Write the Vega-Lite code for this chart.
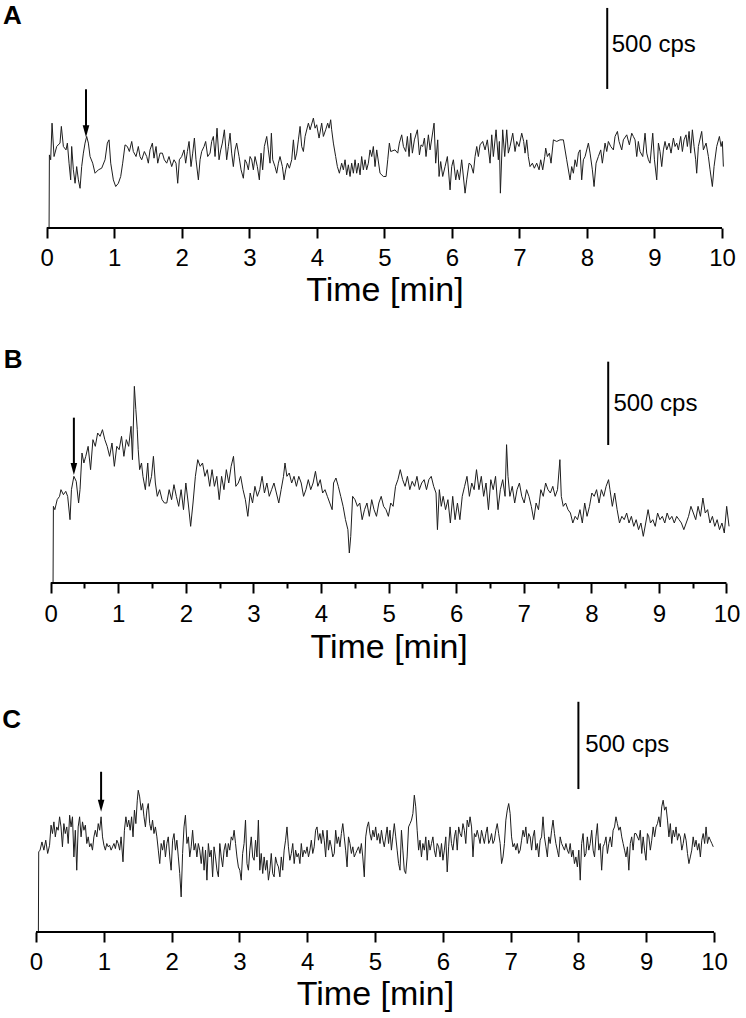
{
  "$schema": "https://vega.github.io/schema/vega-lite/v6.json",
  "padding": 0,
  "config": {"view": {"stroke": null}, "font": "Liberation Sans"},
  "bounds": "flush",
  "spacing": 120,
  "datasets": {
    "A": [
      {"t":0.035,"cps":0},{"t":0.04,"cps":451},{"t":0.059,"cps":421},{"t":0.079,"cps":647},{"t":0.109,"cps":441},{"t":0.148,"cps":503},{"t":0.197,"cps":524},{"t":0.217,"cps":627},{"t":0.247,"cps":503},{"t":0.286,"cps":482},{"t":0.306,"cps":524},{"t":0.331,"cps":400},{"t":0.355,"cps":297},{"t":0.370,"cps":503},{"t":0.395,"cps":359},{"t":0.420,"cps":276},{"t":0.444,"cps":379},{"t":0.469,"cps":297},{"t":0.494,"cps":245},{"t":0.518,"cps":379},{"t":0.543,"cps":462},{"t":0.568,"cps":524},{"t":0.592,"cps":565},{"t":0.617,"cps":524},{"t":0.642,"cps":441},{"t":0.681,"cps":400},{"t":0.716,"cps":338},{"t":0.765,"cps":359},{"t":0.814,"cps":369},{"t":0.864,"cps":421},{"t":0.898,"cps":524},{"t":0.923,"cps":544},{"t":0.948,"cps":400},{"t":0.987,"cps":297},{"t":1.022,"cps":256},{"t":1.061,"cps":276},{"t":1.096,"cps":318},{"t":1.125,"cps":400},{"t":1.160,"cps":513},{"t":1.194,"cps":503},{"t":1.224,"cps":472},{"t":1.259,"cps":534},{"t":1.283,"cps":472},{"t":1.323,"cps":441},{"t":1.357,"cps":503},{"t":1.382,"cps":441},{"t":1.407,"cps":421},{"t":1.446,"cps":472},{"t":1.481,"cps":441},{"t":1.505,"cps":400},{"t":1.530,"cps":482},{"t":1.565,"cps":524},{"t":1.589,"cps":431},{"t":1.619,"cps":503},{"t":1.644,"cps":400},{"t":1.678,"cps":462},{"t":1.713,"cps":462},{"t":1.742,"cps":421},{"t":1.777,"cps":400},{"t":1.811,"cps":441},{"t":1.851,"cps":379},{"t":1.885,"cps":421},{"t":1.915,"cps":400},{"t":1.940,"cps":276},{"t":1.964,"cps":421},{"t":1.999,"cps":441},{"t":2.034,"cps":482},{"t":2.058,"cps":400},{"t":2.083,"cps":472},{"t":2.108,"cps":534},{"t":2.137,"cps":379},{"t":2.162,"cps":462},{"t":2.187,"cps":555},{"t":2.211,"cps":421},{"t":2.246,"cps":297},{"t":2.271,"cps":421},{"t":2.295,"cps":472},{"t":2.330,"cps":503},{"t":2.354,"cps":534},{"t":2.384,"cps":441},{"t":2.419,"cps":462},{"t":2.443,"cps":534},{"t":2.468,"cps":565},{"t":2.493,"cps":441},{"t":2.522,"cps":616},{"t":2.552,"cps":421},{"t":2.577,"cps":482},{"t":2.601,"cps":524},{"t":2.631,"cps":606},{"t":2.665,"cps":421},{"t":2.690,"cps":503},{"t":2.715,"cps":585},{"t":2.739,"cps":462},{"t":2.764,"cps":379},{"t":2.789,"cps":482},{"t":2.813,"cps":524},{"t":2.848,"cps":441},{"t":2.878,"cps":359},{"t":2.912,"cps":307},{"t":2.937,"cps":421},{"t":2.962,"cps":400},{"t":2.986,"cps":359},{"t":3.011,"cps":441},{"t":3.036,"cps":421},{"t":3.060,"cps":359},{"t":3.085,"cps":441},{"t":3.119,"cps":379},{"t":3.149,"cps":297},{"t":3.174,"cps":462},{"t":3.198,"cps":359},{"t":3.223,"cps":503},{"t":3.258,"cps":565},{"t":3.282,"cps":482},{"t":3.307,"cps":400},{"t":3.327,"cps":585},{"t":3.347,"cps":421},{"t":3.381,"cps":379},{"t":3.406,"cps":338},{"t":3.431,"cps":400},{"t":3.455,"cps":441},{"t":3.490,"cps":379},{"t":3.515,"cps":297},{"t":3.539,"cps":359},{"t":3.564,"cps":400},{"t":3.594,"cps":369},{"t":3.628,"cps":421},{"t":3.653,"cps":544},{"t":3.678,"cps":421},{"t":3.702,"cps":462},{"t":3.727,"cps":544},{"t":3.752,"cps":627},{"t":3.776,"cps":503},{"t":3.801,"cps":472},{"t":3.826,"cps":565},{"t":3.875,"cps":647},{"t":3.900,"cps":606},{"t":3.949,"cps":678},{"t":3.974,"cps":616},{"t":3.998,"cps":637},{"t":4.033,"cps":555},{"t":4.072,"cps":647},{"t":4.097,"cps":565},{"t":4.131,"cps":606},{"t":4.161,"cps":647},{"t":4.181,"cps":616},{"t":4.205,"cps":668},{"t":4.220,"cps":606},{"t":4.245,"cps":524},{"t":4.279,"cps":441},{"t":4.304,"cps":379},{"t":4.334,"cps":338},{"t":4.368,"cps":400},{"t":4.393,"cps":359},{"t":4.418,"cps":421},{"t":4.442,"cps":328},{"t":4.467,"cps":390},{"t":4.492,"cps":318},{"t":4.516,"cps":400},{"t":4.541,"cps":338},{"t":4.566,"cps":421},{"t":4.590,"cps":338},{"t":4.615,"cps":400},{"t":4.640,"cps":328},{"t":4.664,"cps":441},{"t":4.689,"cps":359},{"t":4.714,"cps":421},{"t":4.738,"cps":359},{"t":4.763,"cps":400},
      {"t":4.788,"cps":482},{"t":4.813,"cps":441},{"t":4.837,"cps":503},{"t":4.862,"cps":379},{"t":4.887,"cps":482},{"t":4.936,"cps":338},{"t":4.985,"cps":318},{"t":5.025,"cps":318},{"t":5.050,"cps":421},{"t":5.074,"cps":524},{"t":5.094,"cps":472},{"t":5.158,"cps":482},{"t":5.198,"cps":462},{"t":5.222,"cps":524},{"t":5.257,"cps":575},{"t":5.282,"cps":503},{"t":5.316,"cps":472},{"t":5.341,"cps":565},{"t":5.366,"cps":441},{"t":5.390,"cps":585},{"t":5.415,"cps":462},{"t":5.445,"cps":544},{"t":5.489,"cps":606},{"t":5.519,"cps":451},{"t":5.543,"cps":513},{"t":5.568,"cps":503},{"t":5.593,"cps":555},{"t":5.617,"cps":441},{"t":5.652,"cps":575},{"t":5.677,"cps":482},{"t":5.736,"cps":647},{"t":5.760,"cps":400},{"t":5.790,"cps":544},{"t":5.810,"cps":318},{"t":5.834,"cps":410},{"t":5.864,"cps":318},{"t":5.899,"cps":379},{"t":5.933,"cps":441},{"t":5.973,"cps":235},{"t":5.997,"cps":379},{"t":6.022,"cps":421},{"t":6.057,"cps":297},{"t":6.081,"cps":359},{"t":6.111,"cps":297},{"t":6.145,"cps":421},{"t":6.195,"cps":215},{"t":6.219,"cps":297},{"t":6.254,"cps":400},{"t":6.284,"cps":390},{"t":6.318,"cps":338},{"t":6.343,"cps":441},{"t":6.368,"cps":503},{"t":6.392,"cps":441},{"t":6.417,"cps":513},{"t":6.456,"cps":534},{"t":6.491,"cps":482},{"t":6.525,"cps":544},{"t":6.565,"cps":400},{"t":6.590,"cps":575},{"t":6.614,"cps":441},{"t":6.654,"cps":606},{"t":6.688,"cps":421},{"t":6.703,"cps":534},{"t":6.718,"cps":215},{"t":6.752,"cps":606},{"t":6.782,"cps":441},{"t":6.812,"cps":606},{"t":6.836,"cps":462},{"t":6.861,"cps":503},{"t":6.901,"cps":585},{"t":6.935,"cps":472},{"t":6.960,"cps":534},{"t":6.994,"cps":503},{"t":7.034,"cps":585},{"t":7.063,"cps":534},{"t":7.083,"cps":462},{"t":7.108,"cps":544},{"t":7.132,"cps":441},{"t":7.157,"cps":379},{"t":7.192,"cps":400},{"t":7.221,"cps":369},{"t":7.256,"cps":400},{"t":7.291,"cps":359},{"t":7.315,"cps":421},{"t":7.345,"cps":359},{"t":7.375,"cps":441},{"t":7.389,"cps":493},{"t":7.414,"cps":441},{"t":7.444,"cps":462},{"t":7.468,"cps":400},{"t":7.503,"cps":544},{"t":7.552,"cps":534},{"t":7.601,"cps":544},{"t":7.651,"cps":544},{"t":7.700,"cps":421},{"t":7.750,"cps":297},{"t":7.774,"cps":379},{"t":7.799,"cps":338},{"t":7.824,"cps":421},{"t":7.848,"cps":379},{"t":7.873,"cps":462},{"t":7.898,"cps":482},{"t":7.922,"cps":297},{"t":7.947,"cps":421},{"t":7.972,"cps":441},{"t":8.021,"cps":524},{"t":8.046,"cps":462},{"t":8.080,"cps":359},{"t":8.105,"cps":256},{"t":8.135,"cps":400},{"t":8.169,"cps":441},{"t":8.204,"cps":482},{"t":8.228,"cps":400},{"t":8.268,"cps":524},{"t":8.293,"cps":472},{"t":8.317,"cps":534},{"t":8.352,"cps":503},{"t":8.391,"cps":482},{"t":8.416,"cps":565},{"t":8.451,"cps":596},{"t":8.475,"cps":534},{"t":8.515,"cps":482},{"t":8.539,"cps":544},{"t":8.589,"cps":575},{"t":8.628,"cps":513},{"t":8.663,"cps":585},{"t":8.687,"cps":565},{"t":8.712,"cps":544},{"t":8.737,"cps":441},{"t":8.761,"cps":534},{"t":8.786,"cps":472},{"t":8.826,"cps":441},{"t":8.860,"cps":585},{"t":8.885,"cps":462},{"t":8.910,"cps":421},{"t":8.934,"cps":400},{"t":8.974,"cps":585},{"t":8.999,"cps":421},{"t":9.033,"cps":297},{"t":9.058,"cps":524},{"t":9.082,"cps":472},{"t":9.107,"cps":379},{"t":9.132,"cps":482},{"t":9.156,"cps":534},{"t":9.181,"cps":482},{"t":9.216,"cps":524},{"t":9.245,"cps":462},{"t":9.280,"cps":555},{"t":9.304,"cps":503},{"t":9.329,"cps":524},{"t":9.354,"cps":482},{"t":9.388,"cps":565},{"t":9.413,"cps":472},{"t":9.438,"cps":544},{"t":9.467,"cps":575},{"t":9.487,"cps":503},{"t":9.512,"cps":596},{"t":9.536,"cps":462},{"t":9.561,"cps":606},{"t":9.586,"cps":503},{"t":9.610,"cps":421},{"t":9.625,"cps":338},{"t":9.650,"cps":503},{"t":9.699,"cps":596},{"t":9.724,"cps":482},{"t":9.764,"cps":524},{"t":9.798,"cps":441},{"t":9.823,"cps":359},{"t":9.857,"cps":256},{"t":9.882,"cps":379},{"t":9.921,"cps":503},{"t":9.961,"cps":565},{"t":9.986,"cps":503},{"t":10.005,"cps":534},{"t":10.020,"cps":379}
    ],
    "B": [
      {"t":0.035,"cps":0},{"t":0.04,"cps":460},{"t":0.061,"cps":440},{"t":0.096,"cps":500},{"t":0.131,"cps":520},{"t":0.152,"cps":560},{"t":0.188,"cps":530},{"t":0.223,"cps":550},{"t":0.251,"cps":520},{"t":0.286,"cps":380},{"t":0.307,"cps":560},{"t":0.343,"cps":640},{"t":0.378,"cps":610},{"t":0.413,"cps":480},{"t":0.434,"cps":560},{"t":0.463,"cps":780},{"t":0.491,"cps":720},{"t":0.519,"cps":760},{"t":0.554,"cps":820},{"t":0.590,"cps":680},{"t":0.625,"cps":860},{"t":0.660,"cps":820},{"t":0.695,"cps":900},{"t":0.731,"cps":880},{"t":0.766,"cps":920},{"t":0.801,"cps":860},{"t":0.836,"cps":820},{"t":0.872,"cps":760},{"t":0.907,"cps":840},{"t":0.942,"cps":700},{"t":0.978,"cps":820},{"t":1.013,"cps":800},{"t":1.048,"cps":880},{"t":1.083,"cps":760},{"t":1.119,"cps":860},{"t":1.154,"cps":820},{"t":1.189,"cps":940},{"t":1.210,"cps":740},{"t":1.238,"cps":1180},{"t":1.260,"cps":1040},{"t":1.281,"cps":920},{"t":1.295,"cps":800},{"t":1.316,"cps":680},{"t":1.344,"cps":720},{"t":1.365,"cps":640},{"t":1.401,"cps":560},{"t":1.436,"cps":720},{"t":1.457,"cps":580},{"t":1.492,"cps":640},{"t":1.520,"cps":760},{"t":1.549,"cps":600},{"t":1.577,"cps":520},{"t":1.612,"cps":560},{"t":1.648,"cps":500},{"t":1.683,"cps":480},{"t":1.718,"cps":480},{"t":1.753,"cps":560},{"t":1.789,"cps":500},{"t":1.824,"cps":590},{"t":1.859,"cps":520},{"t":1.894,"cps":460},{"t":1.930,"cps":560},{"t":1.965,"cps":440},{"t":2.000,"cps":600},{"t":2.035,"cps":480},{"t":2.071,"cps":340},{"t":2.106,"cps":480},{"t":2.141,"cps":640},{"t":2.176,"cps":740},{"t":2.212,"cps":700},{"t":2.247,"cps":720},{"t":2.282,"cps":640},{"t":2.317,"cps":680},{"t":2.353,"cps":580},{"t":2.388,"cps":680},{"t":2.423,"cps":580},{"t":2.458,"cps":640},{"t":2.494,"cps":500},{"t":2.529,"cps":640},{"t":2.564,"cps":560},{"t":2.599,"cps":680},{"t":2.635,"cps":600},{"t":2.670,"cps":700},{"t":2.705,"cps":760},{"t":2.740,"cps":580},{"t":2.776,"cps":600},{"t":2.811,"cps":640},{"t":2.846,"cps":560},{"t":2.881,"cps":500},{"t":2.917,"cps":400},{"t":2.952,"cps":540},{"t":2.987,"cps":480},{"t":3.022,"cps":580},{"t":3.058,"cps":520},{"t":3.093,"cps":560},{"t":3.128,"cps":640},{"t":3.163,"cps":540},{"t":3.199,"cps":600},{"t":3.234,"cps":520},{"t":3.269,"cps":560},{"t":3.304,"cps":600},{"t":3.340,"cps":540},{"t":3.375,"cps":480},{"t":3.410,"cps":560},{"t":3.445,"cps":640},{"t":3.467,"cps":720},{"t":3.495,"cps":640},{"t":3.530,"cps":660},{"t":3.566,"cps":600},{"t":3.601,"cps":640},{"t":3.636,"cps":580},{"t":3.671,"cps":640},{"t":3.707,"cps":600},{"t":3.742,"cps":520},{"t":3.777,"cps":560},{"t":3.812,"cps":620},{"t":3.848,"cps":560},{"t":3.883,"cps":600},{"t":3.918,"cps":670},{"t":3.953,"cps":580},{"t":3.989,"cps":620},{"t":4.024,"cps":540},{"t":4.059,"cps":560},{"t":4.094,"cps":520},{"t":4.130,"cps":480},{"t":4.165,"cps":440},{"t":4.186,"cps":600},{"t":4.221,"cps":630},{"t":4.256,"cps":580},{"t":4.292,"cps":520},{"t":4.327,"cps":460},{"t":4.362,"cps":380},{"t":4.398,"cps":320},{"t":4.419,"cps":180},{"t":4.440,"cps":280},{"t":4.468,"cps":520},{"t":4.503,"cps":500},{"t":4.539,"cps":460},{"t":4.574,"cps":480},{"t":4.609,"cps":380},{"t":4.644,"cps":440},{"t":4.680,"cps":480},{"t":4.715,"cps":400},{"t":4.750,"cps":500},{"t":4.785,"cps":440},{"t":4.821,"cps":400},{"t":4.856,"cps":480},{"t":4.891,"cps":520},{"t":4.926,"cps":460},{"t":4.962,"cps":440},{"t":4.997,"cps":400},{"t":5.032,"cps":480},{"t":5.067,"cps":460},{"t":5.103,"cps":580},{"t":5.138,"cps":620},{"t":5.173,"cps":680},{"t":5.208,"cps":620},{"t":5.244,"cps":580},{"t":5.279,"cps":640},{"t":5.314,"cps":560},{"t":5.349,"cps":610},{"t":5.385,"cps":580},{"t":5.420,"cps":640},{"t":5.455,"cps":560},{"t":5.490,"cps":600},{"t":5.526,"cps":620},{"t":5.561,"cps":560},{"t":5.596,"cps":620},{"t":5.631,"cps":640},{"t":5.667,"cps":580},{"t":5.702,"cps":540},{"t":5.723,"cps":320},{"t":5.751,"cps":560},{"t":5.780,"cps":460},{"t":5.808,"cps":520},{"t":5.843,"cps":440},{"t":5.878,"cps":500},{"t":5.914,"cps":360},{"t":5.949,"cps":520},{"t":5.984,"cps":380},{"t":6.019,"cps":480},{"t":6.055,"cps":380},{"t":6.090,"cps":520},{"t":6.125,"cps":580},{"t":6.160,"cps":640},{"t":6.196,"cps":520},{"t":6.231,"cps":600},{"t":6.266,"cps":560},{"t":6.301,"cps":680},{"t":6.337,"cps":560},{"t":6.372,"cps":640},{"t":6.407,"cps":520},{"t":6.442,"cps":600},{"t":6.478,"cps":440},{"t":6.513,"cps":620},{"t":6.548,"cps":560},{"t":6.583,"cps":640},{"t":6.619,"cps":440},{"t":6.654,"cps":560},{"t":6.689,"cps":620},{"t":6.724,"cps":520},{"t":6.746,"cps":830},{"t":6.767,"cps":640},{"t":6.795,"cps":520},{"t":6.830,"cps":580},{"t":6.866,"cps":480},{"t":6.901,"cps":560},{"t":6.936,"cps":600},{"t":6.971,"cps":520},{"t":7.007,"cps":480},{"t":7.042,"cps":560},{"t":7.077,"cps":520},{"t":7.112,"cps":460},{"t":7.148,"cps":380},{"t":7.183,"cps":480},{"t":7.218,"cps":440},{"t":7.253,"cps":560},{"t":7.289,"cps":520},{"t":7.324,"cps":600},{"t":7.359,"cps":560},{"t":7.394,"cps":540},{"t":7.430,"cps":580},{"t":7.465,"cps":520},{"t":7.500,"cps":560},{"t":7.535,"cps":740},{"t":7.556,"cps":520},{"t":7.585,"cps":460},{"t":7.620,"cps":480},{"t":7.655,"cps":440},{"t":7.691,"cps":420},{"t":7.726,"cps":360},{"t":7.761,"cps":400},{"t":7.796,"cps":380},{"t":7.832,"cps":440},{"t":7.867,"cps":360},{"t":7.902,"cps":480},{"t":7.937,"cps":400},{"t":7.973,"cps":460},{"t":8.008,"cps":540},{"t":8.043,"cps":520},{"t":8.078,"cps":560},{"t":8.114,"cps":480},{"t":8.149,"cps":560},{"t":8.184,"cps":520},{"t":8.219,"cps":580},{"t":8.255,"cps":620},{"t":8.276,"cps":560},{"t":8.311,"cps":460},{"t":8.346,"cps":540},{"t":8.382,"cps":440},{"t":8.417,"cps":360},{"t":8.452,"cps":400},{"t":8.487,"cps":380},{"t":8.523,"cps":420},{"t":8.558,"cps":360},{"t":8.593,"cps":400},{"t":8.628,"cps":340},{"t":8.664,"cps":380},{"t":8.699,"cps":320},{"t":8.734,"cps":360},{"t":8.769,"cps":280},{"t":8.805,"cps":360},{"t":8.840,"cps":440},{"t":8.875,"cps":360},{"t":8.910,"cps":380},{"t":8.946,"cps":340},{"t":8.981,"cps":420},{"t":9.016,"cps":380},{"t":9.051,"cps":400},{"t":9.087,"cps":360},{"t":9.122,"cps":420},{"t":9.157,"cps":380},{"t":9.192,"cps":400},{"t":9.228,"cps":360},{"t":9.263,"cps":400},{"t":9.298,"cps":380},{"t":9.333,"cps":360},{"t":9.369,"cps":320},{"t":9.404,"cps":360},{"t":9.439,"cps":400},{"t":9.474,"cps":460},{"t":9.510,"cps":420},{"t":9.545,"cps":380},{"t":9.580,"cps":460},{"t":9.615,"cps":400},{"t":9.651,"cps":510},{"t":9.686,"cps":420},{"t":9.721,"cps":440},{"t":9.756,"cps":360},{"t":9.792,"cps":400},{"t":9.827,"cps":340},{"t":9.862,"cps":380},{"t":9.897,"cps":320},{"t":9.933,"cps":360},{"t":9.968,"cps":300},{"t":10.003,"cps":460},{"t":10.038,"cps":340}
    ],
    "C": [
      {"t":0.035,"cps":0},{"t":0.04,"cps":459},{"t":0.060,"cps":469},{"t":0.088,"cps":516},{"t":0.116,"cps":469},{"t":0.144,"cps":526},{"t":0.172,"cps":450},{"t":0.200,"cps":497},{"t":0.222,"cps":612},{"t":0.243,"cps":564},{"t":0.264,"cps":631},{"t":0.285,"cps":545},{"t":0.306,"cps":602},{"t":0.327,"cps":583},{"t":0.348,"cps":660},{"t":0.369,"cps":602},{"t":0.390,"cps":488},{"t":0.411,"cps":621},{"t":0.432,"cps":564},{"t":0.454,"cps":602},{"t":0.475,"cps":507},{"t":0.496,"cps":669},{"t":0.517,"cps":602},{"t":0.538,"cps":660},{"t":0.559,"cps":430},{"t":0.580,"cps":583},{"t":0.601,"cps":354},{"t":0.622,"cps":602},{"t":0.643,"cps":660},{"t":0.665,"cps":545},{"t":0.686,"cps":631},{"t":0.707,"cps":583},{"t":0.728,"cps":612},{"t":0.749,"cps":507},{"t":0.770,"cps":545},{"t":0.791,"cps":488},{"t":0.812,"cps":507},{"t":0.833,"cps":469},{"t":0.854,"cps":545},{"t":0.875,"cps":583},{"t":0.897,"cps":545},{"t":0.918,"cps":621},{"t":0.939,"cps":583},{"t":0.960,"cps":660},{"t":0.981,"cps":545},{"t":1.002,"cps":497},{"t":1.023,"cps":469},{"t":1.044,"cps":507},{"t":1.065,"cps":488},{"t":1.086,"cps":497},{"t":1.108,"cps":469},{"t":1.129,"cps":488},{"t":1.150,"cps":507},{"t":1.171,"cps":478},{"t":1.192,"cps":526},{"t":1.213,"cps":507},{"t":1.234,"cps":469},{"t":1.255,"cps":545},{"t":1.283,"cps":402},{"t":1.304,"cps":583},{"t":1.326,"cps":660},{"t":1.347,"cps":602},{"t":1.368,"cps":641},{"t":1.389,"cps":583},{"t":1.410,"cps":660},{"t":1.431,"cps":545},{"t":1.452,"cps":698},{"t":1.473,"cps":621},{"t":1.494,"cps":755},{"t":1.508,"cps":812},{"t":1.529,"cps":774},{"t":1.551,"cps":698},{"t":1.572,"cps":736},{"t":1.593,"cps":660},{"t":1.614,"cps":602},{"t":1.635,"cps":698},{"t":1.656,"cps":736},{"t":1.677,"cps":621},{"t":1.698,"cps":583},{"t":1.719,"cps":641},{"t":1.740,"cps":564},{"t":1.761,"cps":602},{"t":1.783,"cps":545},{"t":1.804,"cps":469},{"t":1.825,"cps":392},{"t":1.846,"cps":507},{"t":1.867,"cps":469},{"t":1.888,"cps":526},{"t":1.909,"cps":430},{"t":1.930,"cps":507},{"t":1.951,"cps":545},{"t":1.973,"cps":430},{"t":1.993,"cps":354},{"t":2.015,"cps":526},{"t":2.036,"cps":564},{"t":2.057,"cps":469},{"t":2.078,"cps":526},{"t":2.099,"cps":430},{"t":2.120,"cps":335},{"t":2.141,"cps":201},{"t":2.162,"cps":450},{"t":2.183,"cps":602},{"t":2.204,"cps":669},{"t":2.226,"cps":507},{"t":2.247,"cps":545},{"t":2.268,"cps":430},{"t":2.289,"cps":488},{"t":2.310,"cps":583},{"t":2.331,"cps":469},{"t":2.352,"cps":507},{"t":2.373,"cps":430},{"t":2.394,"cps":507},{"t":2.415,"cps":469},{"t":2.437,"cps":392},{"t":2.458,"cps":488},{"t":2.479,"cps":354},{"t":2.500,"cps":469},{"t":2.521,"cps":297},{"t":2.542,"cps":507},{"t":2.563,"cps":430},{"t":2.584,"cps":469},{"t":2.605,"cps":316},{"t":2.626,"cps":488},{"t":2.647,"cps":430},{"t":2.669,"cps":354},{"t":2.690,"cps":316},{"t":2.711,"cps":507},{"t":2.732,"cps":430},{"t":2.753,"cps":373},{"t":2.774,"cps":469},{"t":2.795,"cps":507},{"t":2.816,"cps":430},{"t":2.837,"cps":507},{"t":2.858,"cps":469},{"t":2.880,"cps":545},{"t":2.901,"cps":526},{"t":2.922,"cps":583},{"t":2.943,"cps":507},{"t":2.964,"cps":430},{"t":2.985,"cps":373},{"t":3.006,"cps":354},{"t":3.027,"cps":297},{"t":3.048,"cps":450},{"t":3.069,"cps":507},{"t":3.090,"cps":641},{"t":3.112,"cps":392},{"t":3.133,"cps":354},{"t":3.154,"cps":469},{"t":3.175,"cps":545},{"t":3.196,"cps":430},{"t":3.217,"cps":411},{"t":3.238,"cps":526},{"t":3.259,"cps":430},{"t":3.280,"cps":641},{"t":3.301,"cps":354},{"t":3.322,"cps":450},{"t":3.344,"cps":335},{"t":3.365,"cps":430},{"t":3.386,"cps":354},{"t":3.407,"cps":411},{"t":3.428,"cps":297},{"t":3.449,"cps":354},{"t":3.470,"cps":450},{"t":3.491,"cps":335},{"t":3.512,"cps":316},{"t":3.533,"cps":430},{"t":3.555,"cps":392},{"t":3.576,"cps":373},{"t":3.597,"cps":316},{"t":3.618,"cps":430},{"t":3.639,"cps":354},{"t":3.660,"cps":469},{"t":3.681,"cps":526},{"t":3.702,"cps":602},{"t":3.723,"cps":488},{"t":3.744,"cps":411},{"t":3.766,"cps":450},{"t":3.787,"cps":507},{"t":3.808,"cps":392},{"t":3.829,"cps":469},{"t":3.850,"cps":430},{"t":3.871,"cps":450},{"t":3.892,"cps":392},{"t":3.913,"cps":507},{"t":3.934,"cps":430},{"t":3.955,"cps":469},{"t":3.977,"cps":450},{"t":3.998,"cps":488},{"t":4.019,"cps":430},{"t":4.040,"cps":469},{"t":4.061,"cps":526},{"t":4.082,"cps":450},{"t":4.103,"cps":488},{"t":4.124,"cps":583},{"t":4.145,"cps":602},{"t":4.166,"cps":526},{"t":4.188,"cps":564},{"t":4.209,"cps":507},{"t":4.230,"cps":583},{"t":4.251,"cps":526},{"t":4.272,"cps":430},{"t":4.293,"cps":583},{"t":4.314,"cps":469},{"t":4.335,"cps":526},{"t":4.356,"cps":488},{"t":4.377,"cps":430},{"t":4.399,"cps":450},{"t":4.420,"cps":583},{"t":4.441,"cps":507},{"t":4.462,"cps":545},{"t":4.483,"cps":488},{"t":4.504,"cps":564},{"t":4.525,"cps":621},{"t":4.546,"cps":545},{"t":4.567,"cps":469},{"t":4.588,"cps":373},{"t":4.609,"cps":545},{"t":4.631,"cps":507},{"t":4.652,"cps":450},{"t":4.673,"cps":488},{"t":4.694,"cps":430},{"t":4.715,"cps":450},{"t":4.736,"cps":469},{"t":4.757,"cps":488},{"t":4.778,"cps":450},{"t":4.799,"cps":507},{"t":4.820,"cps":430},{"t":4.842,"cps":316},{"t":4.863,"cps":545},{"t":4.884,"cps":602},{"t":4.905,"cps":631},{"t":4.926,"cps":564},{"t":4.947,"cps":526},{"t":4.968,"cps":583},{"t":4.989,"cps":545},{"t":5.010,"cps":602},{"t":5.031,"cps":526},{"t":5.052,"cps":564},{"t":5.074,"cps":507},{"t":5.095,"cps":583},{"t":5.116,"cps":526},{"t":5.137,"cps":488},{"t":5.158,"cps":545},{"t":5.179,"cps":602},{"t":5.200,"cps":507},{"t":5.221,"cps":583},{"t":5.242,"cps":469},{"t":5.263,"cps":545},{"t":5.285,"cps":621},{"t":5.306,"cps":545},{"t":5.327,"cps":469},{"t":5.348,"cps":392},{"t":5.369,"cps":354},{"t":5.390,"cps":583},{"t":5.411,"cps":469},{"t":5.432,"cps":354},{"t":5.453,"cps":335},{"t":5.474,"cps":430},{"t":5.495,"cps":602},{"t":5.517,"cps":621},{"t":5.538,"cps":641},{"t":5.559,"cps":679},{"t":5.580,"cps":784},{"t":5.601,"cps":717},{"t":5.622,"cps":583},{"t":5.643,"cps":469},{"t":5.664,"cps":526},{"t":5.685,"cps":430},{"t":5.706,"cps":507},{"t":5.728,"cps":469},{"t":5.749,"cps":545},{"t":5.770,"cps":411},{"t":5.791,"cps":526},{"t":5.812,"cps":469},{"t":5.833,"cps":507},{"t":5.854,"cps":545},{"t":5.875,"cps":469},{"t":5.896,"cps":430},{"t":5.917,"cps":507},{"t":5.939,"cps":488},{"t":5.960,"cps":430},{"t":5.981,"cps":507},{"t":6.002,"cps":411},{"t":6.023,"cps":469},{"t":6.044,"cps":545},{"t":6.065,"cps":344},{"t":6.086,"cps":488},{"t":6.107,"cps":602},{"t":6.128,"cps":507},{"t":6.149,"cps":469},{"t":6.171,"cps":545},{"t":6.191,"cps":583},{"t":6.213,"cps":469},{"t":6.234,"cps":602},{"t":6.255,"cps":564},{"t":6.276,"cps":545},{"t":6.297,"cps":621},{"t":6.318,"cps":583},{"t":6.339,"cps":507},{"t":6.360,"cps":641},{"t":6.382,"cps":602},{"t":6.402,"cps":660},{"t":6.424,"cps":602},{"t":6.445,"cps":430},{"t":6.466,"cps":564},{"t":6.487,"cps":545},{"t":6.508,"cps":583},{"t":6.529,"cps":545},{"t":6.550,"cps":507},{"t":6.571,"cps":583},{"t":6.592,"cps":545},{"t":6.613,"cps":507},{"t":6.635,"cps":564},{"t":6.656,"cps":602},{"t":6.677,"cps":507},{"t":6.698,"cps":526},{"t":6.719,"cps":564},{"t":6.740,"cps":507},{"t":6.761,"cps":526},{"t":6.782,"cps":583},{"t":6.803,"cps":621},{"t":6.824,"cps":564},{"t":6.846,"cps":507},{"t":6.867,"cps":392},{"t":6.888,"cps":430},{"t":6.909,"cps":507},{"t":6.930,"cps":641},{"t":6.951,"cps":698},{"t":6.972,"cps":736},{"t":6.993,"cps":679},{"t":7.014,"cps":545},{"t":7.035,"cps":488},{"t":7.056,"cps":507},{"t":7.078,"cps":469},{"t":7.099,"cps":507},{"t":7.120,"cps":450},{"t":7.141,"cps":469},{"t":7.162,"cps":526},{"t":7.183,"cps":583},{"t":7.204,"cps":545},{"t":7.225,"cps":602},{"t":7.246,"cps":507},{"t":7.267,"cps":564},{"t":7.289,"cps":545},{"t":7.310,"cps":469},{"t":7.331,"cps":545},{"t":7.352,"cps":583},{"t":7.373,"cps":469},{"t":7.394,"cps":507},{"t":7.415,"cps":430},{"t":7.436,"cps":526},{"t":7.457,"cps":545},{"t":7.478,"cps":660},{"t":7.499,"cps":545},{"t":7.521,"cps":488},{"t":7.542,"cps":430},{"t":7.563,"cps":545},{"t":7.584,"cps":507},{"t":7.605,"cps":583},{"t":7.626,"cps":641},{"t":7.647,"cps":564},{"t":7.668,"cps":507},{"t":7.689,"cps":469},{"t":7.710,"cps":430},{"t":7.731,"cps":545},{"t":7.753,"cps":507},{"t":7.774,"cps":488},{"t":7.795,"cps":469},{"t":7.816,"cps":507},{"t":7.837,"cps":469},{"t":7.858,"cps":450},{"t":7.879,"cps":507},{"t":7.900,"cps":430},{"t":7.921,"cps":469},{"t":7.942,"cps":392},{"t":7.963,"cps":430},{"t":7.985,"cps":373},{"t":8.006,"cps":469},{"t":8.027,"cps":297},{"t":8.048,"cps":507},{"t":8.069,"cps":564},{"t":8.090,"cps":430},{"t":8.111,"cps":450},{"t":8.132,"cps":545},{"t":8.153,"cps":469},{"t":8.174,"cps":507},{"t":8.196,"cps":583},{"t":8.217,"cps":469},{"t":8.238,"cps":430},{"t":8.259,"cps":545},{"t":8.280,"cps":621},{"t":8.301,"cps":469},{"t":8.322,"cps":507},{"t":8.343,"cps":354},{"t":8.364,"cps":488},{"t":8.385,"cps":507},{"t":8.407,"cps":545},{"t":8.428,"cps":450},{"t":8.449,"cps":507},{"t":8.470,"cps":545},{"t":8.491,"cps":488},{"t":8.512,"cps":583},{"t":8.533,"cps":602},{"t":8.554,"cps":660},{"t":8.575,"cps":621},{"t":8.596,"cps":583},{"t":8.618,"cps":602},{"t":8.639,"cps":545},{"t":8.660,"cps":507},{"t":8.681,"cps":469},{"t":8.702,"cps":430},{"t":8.723,"cps":488},{"t":8.744,"cps":354},{"t":8.765,"cps":507},{"t":8.786,"cps":545},{"t":8.807,"cps":469},{"t":8.828,"cps":564},{"t":8.850,"cps":564},{"t":8.871,"cps":545},{"t":8.892,"cps":526},{"t":8.913,"cps":583},{"t":8.934,"cps":450},{"t":8.955,"cps":545},{"t":8.976,"cps":469},{"t":8.997,"cps":411},{"t":9.018,"cps":564},{"t":9.039,"cps":545},{"t":9.061,"cps":469},{"t":9.082,"cps":526},{"t":9.103,"cps":602},{"t":9.124,"cps":545},{"t":9.145,"cps":602},{"t":9.166,"cps":621},{"t":9.187,"cps":660},{"t":9.208,"cps":602},{"t":9.229,"cps":717},{"t":9.250,"cps":755},{"t":9.271,"cps":698},{"t":9.293,"cps":717},{"t":9.314,"cps":641},{"t":9.335,"cps":545},{"t":9.356,"cps":621},{"t":9.377,"cps":507},{"t":9.398,"cps":583},{"t":9.419,"cps":545},{"t":9.440,"cps":602},{"t":9.461,"cps":526},{"t":9.482,"cps":564},{"t":9.504,"cps":545},{"t":9.525,"cps":469},{"t":9.546,"cps":507},{"t":9.567,"cps":564},{"t":9.588,"cps":526},{"t":9.609,"cps":450},{"t":9.630,"cps":392},{"t":9.651,"cps":430},{"t":9.672,"cps":469},{"t":9.693,"cps":545},{"t":9.714,"cps":488},{"t":9.735,"cps":526},{"t":9.757,"cps":469},{"t":9.778,"cps":507},{"t":9.799,"cps":430},{"t":9.820,"cps":526},{"t":9.841,"cps":564},{"t":9.862,"cps":507},{"t":9.883,"cps":602},{"t":9.904,"cps":507},{"t":9.925,"cps":545},{"t":9.946,"cps":526},{"t":9.968,"cps":507},{"t":9.989,"cps":488}
    ]
  },
  "vconcat": [
    {
      "width": 746,
      "height": 228,
      "encoding": {
        "x": {"field": "t", "type": "quantitative",
          "scale": {"domain": [-0.6915, 10.355], "nice": false, "zero": false},
          "axis": {"values": [0,1,2,3,4,5,6,7,8,9,10], "domain": false, "grid": false, "tickSize": 10, "tickWidth": 2, "tickColor": "black",
            "labelFont": "Liberation Sans", "labelFontSize": 24, "labelColor": "black", "labelPadding": 8, "labelFlush": false, "labelOverlap": false,
            "title": "Time [min]", "titleFont": "Liberation Sans", "titleFontSize": 34, "titleFontWeight": "normal", "titleColor": "black",
            "titleX": 384.4, "titleY": 72, "titleAlign": "center", "titleBaseline": "alphabetic"}},
        "y": {"field": "cps", "type": "quantitative", "scale": {"domain": [0, 1407], "nice": false, "zero": false}, "axis": null}
      },
      "layer": [
        {"data": {"name": "A"}, "mark": {"type": "line", "color": "#1e1e1e", "strokeWidth": 1}},
        {"data": {"values": [{"t": 0, "t2": 10, "cps": 0}]}, "mark": {"type": "rule", "color": "black", "strokeWidth": 2}, "encoding": {"x2": {"field": "t2"}}},
        {"data": {"values": [{"t": 8.30, "cps": 858, "cps2": 1358}]}, "mark": {"type": "rule", "color": "black", "strokeWidth": 2}, "encoding": {"y2": {"field": "cps2"}}},
        {"data": {"values": [{"t": 8.367, "cps": 1086, "label": "500 cps"}]}, "mark": {"type": "text", "align": "left", "baseline": "alphabetic", "fontSize": 24, "font": "Liberation Sans", "color": "black"}, "encoding": {"text": {"field": "label"}}},
        {"data": {"values": [{"t": 0.582, "cps": 629, "cps2": 856}]}, "mark": {"type": "rule", "color": "black", "strokeWidth": 2}, "encoding": {"y2": {"field": "cps2"}}},
        {"data": {"values": [{"t": 0.582, "cps": 597}]}, "mark": {"type": "point", "shape": "M-0.55,-1L0.55,-1L0,1Z", "filled": true, "size": 144, "color": "black", "opacity": 1}},
        {"data": {"values": [{"t": -0.647, "cps": 1259, "label": "A"}]}, "mark": {"type": "text", "align": "left", "baseline": "alphabetic", "fontSize": 26, "fontWeight": "bold", "font": "Liberation Sans", "color": "black"}, "encoding": {"text": {"field": "label"}}}
      ]
    },
    {
      "width": 746,
      "height": 235,
      "encoding": {
        "x": {"field": "t", "type": "quantitative",
          "scale": {"domain": [-0.7502, 10.289], "nice": false, "zero": false},
          "axis": {"values": [0,0.5,1,1.5,2,2.5,3,3.5,4,4.5,5,5.5,6,6.5,7,7.5,8,8.5,9,9.5,10], "domain": false, "grid": false,
            "tickSize": {"condition": {"test": "datum.value % 1 !== 0", "value": 5}, "value": 10}, "tickWidth": 2, "tickColor": "black",
            "labelExpr": "datum.value % 1 === 0 ? toString(datum.value) : ''",
            "labelFont": "Liberation Sans", "labelFontSize": 24, "labelColor": "black", "labelPadding": 9.5, "labelFlush": false, "labelOverlap": false,
            "title": "Time [min]", "titleFont": "Liberation Sans", "titleFontSize": 34, "titleFontWeight": "normal", "titleColor": "black",
            "titleX": 388.6, "titleY": 74, "titleAlign": "center", "titleBaseline": "alphabetic"}},
        "y": {"field": "cps", "type": "quantitative", "scale": {"domain": [0, 1410], "nice": false, "zero": false}, "axis": null}
      },
      "layer": [
        {"data": {"name": "B"}, "mark": {"type": "line", "color": "#1e1e1e", "strokeWidth": 1}},
        {"data": {"values": [{"t": 0, "t2": 10, "cps": 0}]}, "mark": {"type": "rule", "color": "black", "strokeWidth": 2}, "encoding": {"x2": {"field": "t2"}}},
        {"data": {"values": [{"t": 8.25, "cps": 828, "cps2": 1328}]}, "mark": {"type": "rule", "color": "black", "strokeWidth": 2}, "encoding": {"y2": {"field": "cps2"}}},
        {"data": {"values": [{"t": 8.327, "cps": 1034, "label": "500 cps"}]}, "mark": {"type": "text", "align": "left", "baseline": "alphabetic", "fontSize": 24, "font": "Liberation Sans", "color": "black"}, "encoding": {"text": {"field": "label"}}},
        {"data": {"values": [{"t": 0.343, "cps": 714, "cps2": 992}]}, "mark": {"type": "rule", "color": "black", "strokeWidth": 2}, "encoding": {"y2": {"field": "cps2"}}},
        {"data": {"values": [{"t": 0.343, "cps": 684}]}, "mark": {"type": "point", "shape": "M-0.55,-1L0.55,-1L0,1Z", "filled": true, "size": 144, "color": "black", "opacity": 1}},
        {"data": {"values": [{"t": -0.694, "cps": 1288, "label": "B"}]}, "mark": {"type": "text", "align": "left", "baseline": "alphabetic", "fontSize": 26, "fontWeight": "bold", "font": "Liberation Sans", "color": "black"}, "encoding": {"text": {"field": "label"}}}
      ]
    },
    {
      "width": 746,
      "height": 229,
      "encoding": {
        "x": {"field": "t", "type": "quantitative",
          "scale": {"domain": [-0.531, 10.472], "nice": false, "zero": false},
          "axis": {"values": [0,1,2,3,4,5,6,7,8,9,10], "domain": false, "grid": false, "tickSize": 10, "tickWidth": 2, "tickColor": "black",
            "labelFont": "Liberation Sans", "labelFontSize": 24, "labelColor": "black", "labelPadding": 8.5, "labelFlush": false, "labelOverlap": false,
            "title": "Time [min]", "titleFont": "Liberation Sans", "titleFontSize": 34, "titleFontWeight": "normal", "titleColor": "black",
            "titleX": 375, "titleY": 72.5, "titleAlign": "center", "titleBaseline": "alphabetic"}},
        "y": {"field": "cps", "type": "quantitative", "scale": {"domain": [0, 1312], "nice": false, "zero": false}, "axis": null}
      },
      "layer": [
        {"data": {"name": "C"}, "mark": {"type": "line", "color": "#1e1e1e", "strokeWidth": 1}},
        {"data": {"values": [{"t": 0, "t2": 10, "cps": 0}]}, "mark": {"type": "rule", "color": "black", "strokeWidth": 2}, "encoding": {"x2": {"field": "t2"}}},
        {"data": {"values": [{"t": 8.0, "cps": 819, "cps2": 1319}]}, "mark": {"type": "rule", "color": "black", "strokeWidth": 2}, "encoding": {"y2": {"field": "cps2"}}},
        {"data": {"values": [{"t": 8.10, "cps": 1033, "label": "500 cps"}]}, "mark": {"type": "text", "align": "left", "baseline": "alphabetic", "fontSize": 24, "font": "Liberation Sans", "color": "black"}, "encoding": {"text": {"field": "label"}}},
        {"data": {"values": [{"t": 0.96, "cps": 756, "cps2": 918}]}, "mark": {"type": "rule", "color": "black", "strokeWidth": 2}, "encoding": {"y2": {"field": "cps2"}}},
        {"data": {"values": [{"t": 0.96, "cps": 724}]}, "mark": {"type": "point", "shape": "M-0.55,-1L0.55,-1L0,1Z", "filled": true, "size": 144, "color": "black", "opacity": 1}},
        {"data": {"values": [{"t": -0.496, "cps": 1167, "label": "C"}]}, "mark": {"type": "text", "align": "left", "baseline": "alphabetic", "fontSize": 26, "fontWeight": "bold", "font": "Liberation Sans", "color": "black"}, "encoding": {"text": {"field": "label"}}}
      ]
    }
  ]
}
